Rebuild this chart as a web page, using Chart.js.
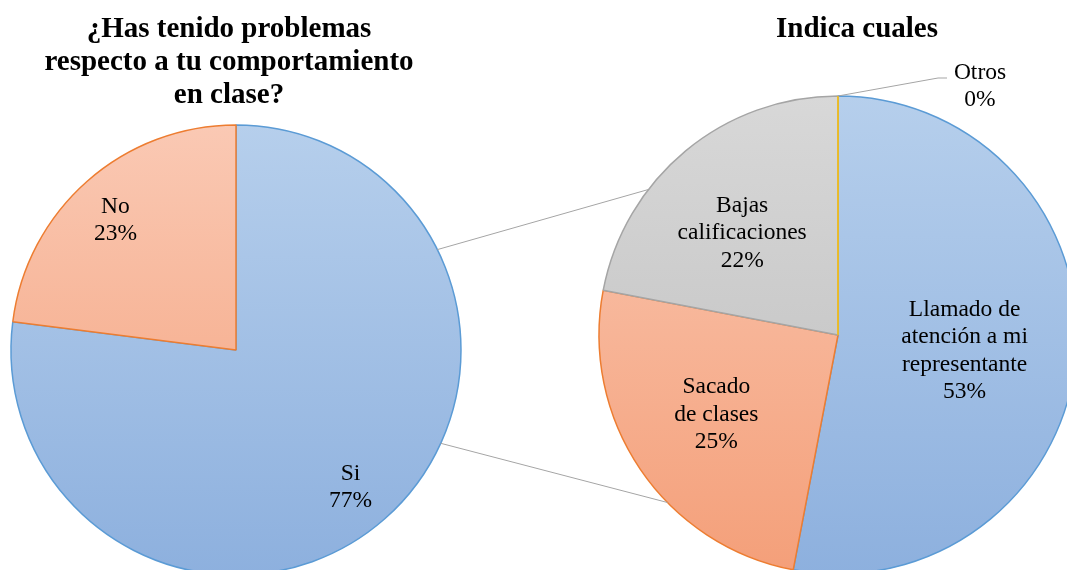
<!DOCTYPE html>
<html>
<head>
<meta charset="utf-8">
<script src="https://cdn.jsdelivr.net/npm/chart.js@4/dist/chart.umd.min.js"></script>
<style>
  html, body { margin: 0; padding: 0; background: #ffffff; }
  #wrap { position: relative; width: 1067px; height: 570px; overflow: hidden; background: #ffffff; }
  #wrap canvas { position: absolute; left: 0; top: 0; }
</style>
</head>
<body>
<div id="wrap">
  <canvas id="left" width="1100" height="600"></canvas>
  <canvas id="right" width="1100" height="600"></canvas>
</div>
<script>
// ---- data ----
const leftTitle = ['¿Has tenido problemas', 'respecto a tu comportamiento', 'en clase?'];
const leftCategories = [['Si'], ['No']];
const leftValues = [77, 23];

const rightTitle = ['Indica cuales'];
const rightCategories = [
  ['Llamado de', 'atención a mi', 'representante'],
  ['Sacado', 'de clases'],
  ['Bajas', 'calificaciones'],
  ['Otros']
];
const rightValues = [53, 25, 22, 0];

// ---- styles ----
const FONT = "'Liberation Serif', 'Times New Roman', serif";
const fills = {
  blue: ['#b6cfec', '#8db0de'],
  orange: ['#fac9b4', '#f49f79'],
  gray: ['#d8d8d8', '#bcbcbc'],
  yellow: ['#ffd966', '#ffc000']
};
const borders = { blue: '#5b9bd5', orange: '#ed7d31', gray: '#a5a5a5', yellow: '#ffc000' };

function gradFill(keys) {
  return function (ctx) {
    const chart = ctx.chart;
    const ca = chart.chartArea;
    const k = keys[ctx.dataIndex];
    if (!ca) return fills[k][0];
    const g = chart.ctx.createLinearGradient(0, ca.top, 0, ca.bottom);
    g.addColorStop(0, fills[k][0]);
    g.addColorStop(1, fills[k][1]);
    return g;
  };
}

function pct(values, i) {
  const t = values.reduce((a, b) => a + b, 0);
  return Math.round(values[i] / t * 100) + '%';
}

function labelPlugin(categories, values, frac, fontSize, lineH, dx, dy) {
  return {
    id: 'pielabels',
    afterDatasetsDraw(chart) {
      const ctx = chart.ctx;
      const meta = chart.getDatasetMeta(0);
      ctx.save();
      ctx.fillStyle = '#000000';
      ctx.font = fontSize + 'px ' + FONT;
      ctx.textAlign = 'center';
      ctx.textBaseline = 'middle';
      meta.data.forEach((arc, i) => {
        if (values[i] === 0) return;
        const p = arc.getProps(['x', 'y', 'startAngle', 'endAngle', 'outerRadius'], true);
        const mid = (p.startAngle + p.endAngle) / 2;
        const r = p.outerRadius * frac;
        const cx = p.x + Math.cos(mid) * r + dx;
        const cy = p.y + Math.sin(mid) * r + dy;
        const lines = categories[i].concat([pct(values, i)]);
        const y0 = cy - (lines.length - 1) * lineH / 2;
        lines.forEach((ln, j) => ctx.fillText(ln, cx, y0 + j * lineH));
      });
      ctx.restore();
    }
  };
}

function titlePlugin(lines, fontSize, lineH, firstBaseline, dx) {
  return {
    id: 'ptitle',
    afterDraw(chart) {
      const ctx = chart.ctx;
      const meta = chart.getDatasetMeta(0);
      const a = meta.data[0];
      const cx = a.x + dx;
      ctx.save();
      ctx.fillStyle = '#000000';
      ctx.font = 'bold ' + fontSize + 'px ' + FONT;
      ctx.textAlign = 'center';
      ctx.textBaseline = 'alphabetic';
      lines.forEach((ln, j) => ctx.fillText(ln, cx, firstBaseline + j * lineH));
      ctx.restore();
    }
  };
}

const leftKeys = ['blue', 'orange'];
const rightKeys = ['blue', 'orange', 'gray', 'yellow'];

const common = {
  responsive: false,
  animation: false,
  events: [],
  devicePixelRatio: 1,
  plugins: { legend: { display: false }, tooltip: { enabled: false }, title: { display: false } }
};

const leftChart = new Chart(document.getElementById('left'), {
  type: 'pie',
  data: {
    labels: leftCategories.map(c => c.join(' ')),
    datasets: [{
      data: leftValues,
      backgroundColor: gradFill(leftKeys),
      borderColor: leftKeys.map(k => borders[k]),
      borderWidth: 1.5
    }]
  },
  options: Object.assign({}, common, {
    layout: { padding: { left: 10.25, top: 124.25, right: 638.25, bottom: 24.25 } }
  }),
  plugins: [labelPlugin(leftCategories, leftValues, 0.79, 23.5, 27, -3, 4), titlePlugin(leftTitle, 29, 33, 37, -7)]
});

const connectorPlugin = {
  id: 'connectors',
  afterDatasetsDraw(chart) {
    const ctx = chart.ctx;
    const meta = chart.getDatasetMeta(0);
    // Otros (zero slice) marker line and leader
    meta.data.forEach((arc, i) => {
      if (rightValues[i] !== 0) return;
      const p = arc.getProps(['x', 'y', 'startAngle', 'outerRadius'], true);
      const ex = p.x + Math.cos(p.startAngle) * p.outerRadius;
      const ey = p.y + Math.sin(p.startAngle) * p.outerRadius;
      ctx.save();
      ctx.strokeStyle = borders[rightKeys[i]];
      ctx.lineWidth = 1.5;
      ctx.beginPath(); ctx.moveTo(p.x, p.y); ctx.lineTo(ex, ey); ctx.stroke();
      ctx.strokeStyle = '#a5a5a5';
      ctx.lineWidth = 1;
      ctx.beginPath(); ctx.moveTo(ex, ey); ctx.lineTo(ex + 100, ey - 18); ctx.lineTo(ex + 109, ey - 18); ctx.stroke();
      ctx.fillStyle = '#000000';
      ctx.font = '23.5px ' + FONT;
      ctx.textAlign = 'center';
      ctx.textBaseline = 'middle';
      ctx.fillText(rightCategories[i][0], ex + 142, ey - 23);
      ctx.fillText(pct(rightValues, i), ex + 142, ey + 4);
      ctx.restore();
    });
    // connector lines between the two pies
    const la = leftChart.getDatasetMeta(0).data[0];
    const ra = meta.data[0];
    const deg = Math.PI / 180;
    const pt = (a, angTop) => {
      const t = angTop * deg - Math.PI / 2;
      return [a.x + Math.cos(t) * a.outerRadius, a.y + Math.sin(t) * a.outerRadius];
    };
    const pairs = [[pt(la, 63.5), pt(ra, 307.5)], [pt(la, 114.5), pt(ra, 225.5)]];
    ctx.save();
    ctx.strokeStyle = '#a5a5a5';
    ctx.lineWidth = 1;
    pairs.forEach(([a, b]) => { ctx.beginPath(); ctx.moveTo(a[0], a[1]); ctx.lineTo(b[0], b[1]); ctx.stroke(); });
    ctx.restore();
  }
};

const rightChart = new Chart(document.getElementById('right'), {
  type: 'pie',
  data: {
    labels: rightCategories.map(c => c.join(' ')),
    datasets: [{
      data: rightValues,
      backgroundColor: gradFill(rightKeys),
      borderColor: rightKeys.map(k => borders[k]),
      borderWidth: 1.5
    }]
  },
  options: Object.assign({}, common, {
    layout: { padding: { left: 598.25, top: 95.25, right: 22.25, bottom: 25.25 } }
  }),
  plugins: [connectorPlugin, labelPlugin(rightCategories, rightValues, 0.57, 23.5, 27.5, -9, 3), titlePlugin(rightTitle, 29, 33, 37, 19)]
});
</script>
</body>
</html>
